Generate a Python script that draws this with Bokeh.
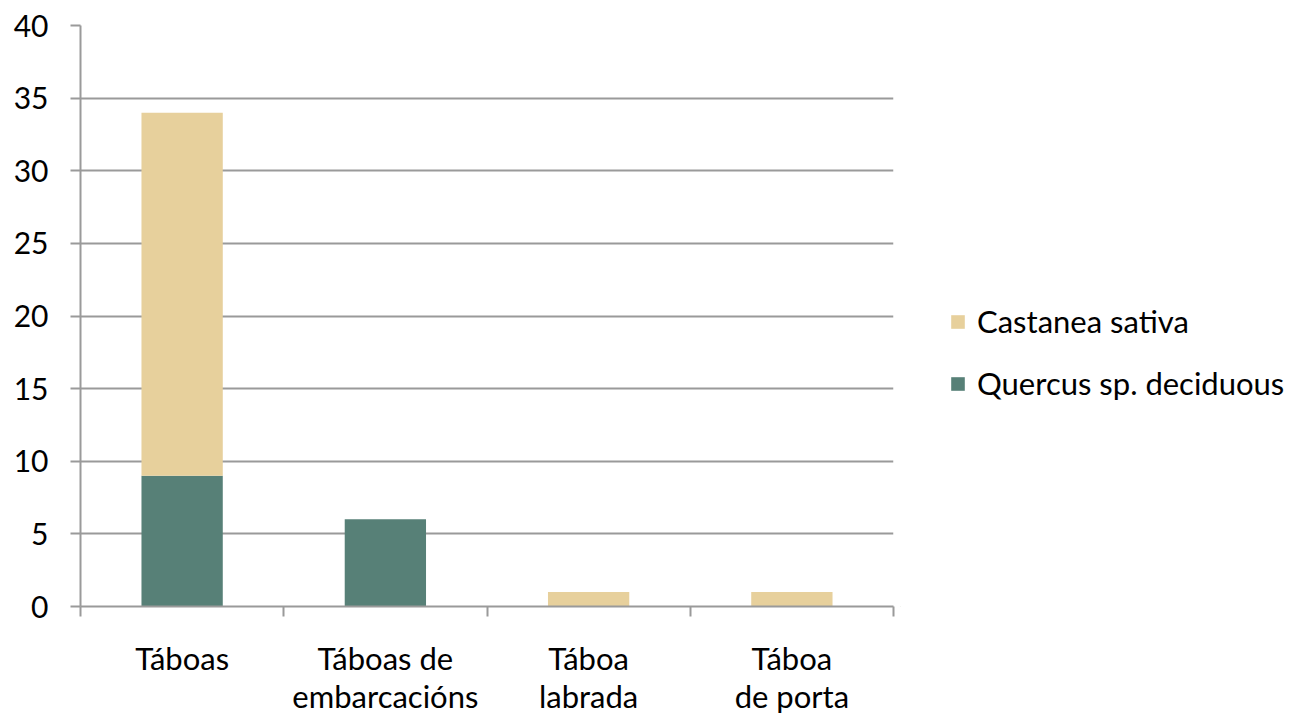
from bokeh.plotting import figure
from bokeh.layouts import row
from bokeh.models import ColumnDataSource, FixedTicker, Legend, LegendItem, Range1d
from bokeh.embed import file_html
from bokeh.resources import INLINE
import numpy as np

categories = ["Táboas", "Táboas de\nembarcacións", "Táboa\nlabrada", "Táboa\nde porta"]
quercus = [9, 6, 0, 0]
castanea = [25, 0, 1, 1]
series_names = ["Castanea sativa", "Quercus sp. deciduous"]
y_ticks = [0, 5, 10, 15, 20, 25, 30, 35, 40]

TAN = "#E7D09C"
GREEN = "#578077"
GRID = "#9a9a9a"

x_pos = np.arange(len(categories)) + 0.5
source = ColumnDataSource(dict(x=x_pos, quercus=quercus, castanea=castanea))

p = figure(width=900, height=717, output_backend="svg", toolbar_location=None,
           x_range=Range1d(0, len(categories)), y_range=Range1d(0, 40),
           min_border_left=80, min_border_right=7, min_border_top=25, min_border_bottom=109)
p.outline_line_color = None

r = p.vbar_stack(["quercus", "castanea"], x="x", width=0.4, source=source,
                 color=[GREEN, TAN], line_color=None)

# axes
p.xaxis.ticker = FixedTicker(ticks=list(x_pos), minor_ticks=list(range(len(categories) + 1)))
p.xaxis.major_label_overrides = {float(x): c for x, c in zip(x_pos, categories)}
p.xaxis.major_tick_out = 0
p.xaxis.major_tick_in = 0
p.xaxis.minor_tick_out = 10
p.xaxis.minor_tick_in = 0
p.xaxis.minor_tick_line_color = GRID
p.xaxis.minor_tick_line_width = 2
p.xaxis.axis_line_color = GRID
p.xaxis.axis_line_width = 2
p.xaxis.major_label_text_font = "Lato"
p.xaxis.major_label_text_font_size = "31px"
p.xaxis.major_label_text_line_height = 1.0
p.xaxis.major_label_text_color = "#000000"
p.xaxis.major_label_standoff = 22

p.yaxis.ticker = FixedTicker(ticks=y_ticks)
p.yaxis.major_tick_out = 10
p.yaxis.major_tick_in = 0
p.yaxis.minor_tick_line_color = None
p.yaxis.major_tick_line_color = GRID
p.yaxis.major_tick_line_width = 2
p.yaxis.axis_line_color = GRID
p.yaxis.axis_line_width = 2
p.yaxis.major_label_text_font = "Lato"
p.yaxis.major_label_text_font_size = "30px"
p.yaxis.major_label_text_color = "#000000"
p.yaxis.major_label_standoff = 22

p.xgrid.grid_line_color = None
p.ygrid.grid_line_color = GRID
p.ygrid.grid_line_width = 2

# legend panel as a separate figure to the right (proxy renderers lie outside its ranges)
p2 = figure(width=410, height=717, output_backend="svg", toolbar_location=None,
            x_range=Range1d(0, 1), y_range=Range1d(0, 1),
            min_border_left=0, min_border_right=0, min_border_top=0, min_border_bottom=0)
p2.axis.visible = False
p2.grid.grid_line_color = None
p2.outline_line_color = None
proxy = ColumnDataSource(dict(x=[-5.0], top=[-5.0]))
lr_cast = p2.vbar(x="x", top="top", bottom="top", width=0.1, source=proxy, color=TAN, line_color=None)
lr_quer = p2.vbar(x="x", top="top", bottom="top", width=0.1, source=proxy, color=GREEN, line_color=None)

legend = Legend(items=[LegendItem(label=series_names[0], renderers=[lr_cast], index=0),
                       LegendItem(label=series_names[1], renderers=[lr_quer], index=0)],
                location=(49, 204), orientation="vertical")
legend.border_line_color = None
legend.background_fill_alpha = 0
legend.glyph_width = 17
legend.glyph_height = 17
legend.label_height = 34
legend.label_standoff = 11
legend.label_text_font = "Lato"
legend.label_text_font_size = "31px"
legend.label_text_color = "#000000"
legend.spacing = 24
legend.padding = 0
legend.margin = 0
p2.add_layout(legend, "center")

layout = row(p, p2)
open("out.html", "w").write(file_html(layout, INLINE))
